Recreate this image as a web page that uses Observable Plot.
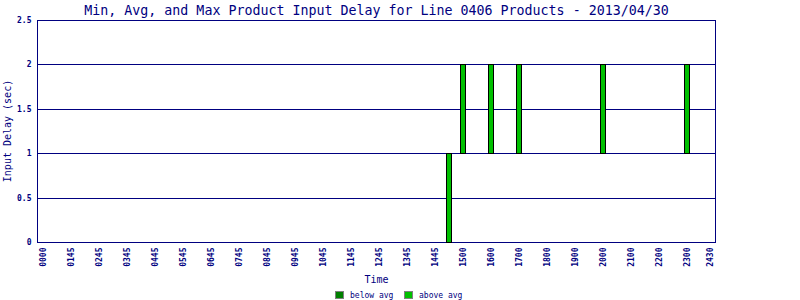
<!DOCTYPE html>
<html><head><meta charset="utf-8">
<script src="https://cdn.jsdelivr.net/npm/d3@7"></script>
<script src="https://cdn.jsdelivr.net/npm/@observablehq/plot@0.6"></script>
<style>
body{margin:0;background:#fff;}
#wrap{width:800px;height:300px;}
</style></head><body><div id="wrap"></div>
<script>
const title = "Min, Avg, and Max Product Input Delay for Line 0406 Products - 2013/04/30";
const yLabel = "Input Delay (sec)";
const xLabel = "Time";
const tickLabels = ["0000","0145","0245","0345","0445","0545","0645","0745","0845","0945","1045","1145","1245","1345","1445","1500","1600","1700","1800","1900","2000","2100","2200","2300","2430"];
const tickSlots = [0,1,2,3,4,5,6,7,8,9,10,11,12,13,14,15,16,17,18,19,20,21,22,23,23.82];
const yTicks = [0,0.5,1,1.5,2,2.5];
const barSlots = [14.5,15,16,17,20,23];
const barMin = [0,1,1,1,1,1];
const barMax = [1,2,2,2,2,2];
const legendNames = ["below avg","above avg"];
const legendColors = ["#008000","#00c000"];

const bars = barSlots.map((s,i)=>({slot:s,min:barMin[i],max:barMax[i]}));
const navy = "#000080";
const mono = "DejaVu Sans Mono, monospace";

const svg = Plot.plot({
  width: 800, height: 300,
  marginLeft: 37, marginRight: 85, marginTop: 20, marginBottom: 58,
  style: {fontFamily: mono, color: navy, background: "#fff"},
  x: {type: "linear", domain: [-0.225, 24]},
  y: {domain: [0, 2.5]},
  marks: [
    Plot.gridY(yTicks, {stroke: navy, strokeOpacity: 1, shapeRendering: "crispEdges"}),
    Plot.frame({stroke: navy, shapeRendering: "crispEdges"}),
    Plot.rect(bars, {x1: d => d.slot - 0.09, x2: d => d.slot + 0.09, y1: "min", y2: "max",
      fill: legendColors[1], stroke: "black", strokeWidth: 1, shapeRendering: "crispEdges"}),
    Plot.axisY(yTicks, {tickSize: 0, tickPadding: 6, fontSize: 8, fontWeight: "bold",
      tickFormat: d => String(d), label: null}),
    Plot.axisX(tickSlots, {tickSize: 0, tickPadding: 5, fontSize: 8, fontWeight: "bold", tickRotate: -90,
      tickFormat: (d,i) => tickLabels[i], label: null}),
    Plot.text([title], {frameAnchor: "top", dy: -6, lineAnchor: "bottom", fontSize: 13.3, fill: navy}),
    Plot.text([xLabel], {frameAnchor: "bottom", dy: 40, lineAnchor: "bottom", fontSize: 10, fill: navy})
  ]
});

const root = d3.select(svg);
root.append("text").attr("transform", "translate(8,131) rotate(-90)")
  .attr("text-anchor", "middle").attr("dominant-baseline", "middle")
  .attr("font-family", mono).attr("font-size", 10).attr("fill", navy).text(yLabel);

const g = root.append("g").attr("font-family", mono).attr("font-size", 8).attr("fill", navy).attr("text-anchor", "start");
const legX = [335, 404];
legendNames.forEach((n,i) => {
  g.append("rect").attr("x", legX[i] + 0.5).attr("y", 291.5).attr("width", 8).attr("height", 7)
    .attr("fill", legendColors[i]).attr("stroke", "#808080");
  g.append("text").attr("x", legX[i] + 15).attr("y", 298).text(n);
});

document.getElementById("wrap").appendChild(svg);
</script></body></html>
